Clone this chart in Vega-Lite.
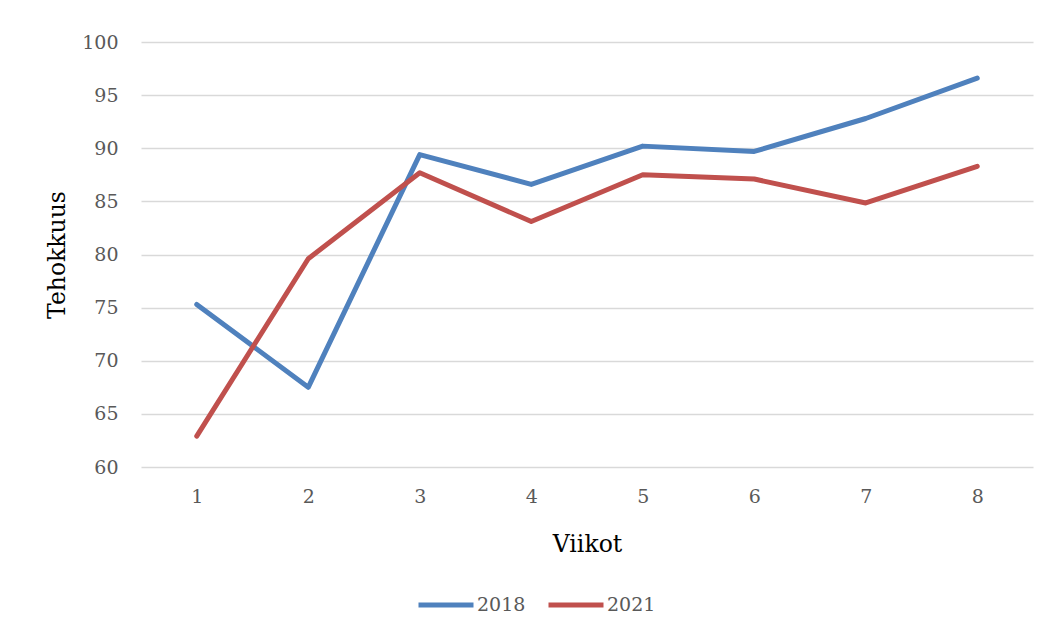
{
  "$schema": "https://vega.github.io/schema/vega-lite/v6.json",
  "width": 892,
  "height": 425,
  "autosize": {"type": "none"},
  "padding": {"left": 141, "top": 42, "right": 17, "bottom": 168},
  "background": "white",
  "config": {
    "view": {"stroke": null},
    "font": "DejaVu Serif"
  },
  "data": {
    "values": [
      {"viikko": "1", "vuosi": "2018", "tehokkuus": 75.3},
      {"viikko": "2", "vuosi": "2018", "tehokkuus": 67.5},
      {"viikko": "3", "vuosi": "2018", "tehokkuus": 89.4},
      {"viikko": "4", "vuosi": "2018", "tehokkuus": 86.6},
      {"viikko": "5", "vuosi": "2018", "tehokkuus": 90.2},
      {"viikko": "6", "vuosi": "2018", "tehokkuus": 89.7},
      {"viikko": "7", "vuosi": "2018", "tehokkuus": 92.8},
      {"viikko": "8", "vuosi": "2018", "tehokkuus": 96.6},
      {"viikko": "1", "vuosi": "2021", "tehokkuus": 62.9},
      {"viikko": "2", "vuosi": "2021", "tehokkuus": 79.6},
      {"viikko": "3", "vuosi": "2021", "tehokkuus": 87.7},
      {"viikko": "4", "vuosi": "2021", "tehokkuus": 83.1},
      {"viikko": "5", "vuosi": "2021", "tehokkuus": 87.5},
      {"viikko": "6", "vuosi": "2021", "tehokkuus": 87.1},
      {"viikko": "7", "vuosi": "2021", "tehokkuus": 84.85},
      {"viikko": "8", "vuosi": "2021", "tehokkuus": 88.3}
    ]
  },
  "mark": {"type": "line", "strokeWidth": 5, "strokeCap": "round", "strokeJoin": "round"},
  "encoding": {
    "x": {
      "field": "viikko",
      "type": "ordinal",
      "scale": {"type": "point", "padding": 0.5},
      "axis": {
        "title": "Viikot",
        "titleFont": "DejaVu Serif",
        "titleFontSize": 23.5,
        "titleFontWeight": "normal",
        "titleColor": "#000000",
        "titlePadding": 26,
        "labelAngle": 0,
        "labelFontSize": 19,
        "labelColor": "#595959",
        "labelPadding": 20,
        "domain": false,
        "ticks": false,
        "grid": false
      }
    },
    "y": {
      "field": "tehokkuus",
      "type": "quantitative",
      "scale": {"domain": [60, 100], "nice": false, "zero": false},
      "axis": {
        "title": "Tehokkuus",
        "titleFont": "DejaVu Serif",
        "titleFontSize": 23.5,
        "titleFontWeight": "normal",
        "titleColor": "#000000",
        "titlePadding": 12,
        "values": [60, 65, 70, 75, 80, 85, 90, 95, 100],
        "labelFontSize": 19,
        "labelColor": "#595959",
        "labelPadding": 23,
        "domain": false,
        "ticks": false,
        "grid": true,
        "gridColor": "#d9d9d9",
        "gridWidth": 1.5
      }
    },
    "color": {
      "field": "vuosi",
      "type": "nominal",
      "scale": {"domain": ["2018", "2021"], "range": ["#4f81bd", "#c0504d"]},
      "legend": {
        "title": null,
        "orient": "none",
        "direction": "horizontal",
        "legendX": 275,
        "legendY": 533,
        "symbolType": "stroke",
        "symbolSize": 3025,
        "symbolStrokeWidth": 5,
        "labelFontSize": 19,
        "labelColor": "#595959",
        "labelOffset": 1,
        "columnPadding": 12
      }
    }
  }
}
